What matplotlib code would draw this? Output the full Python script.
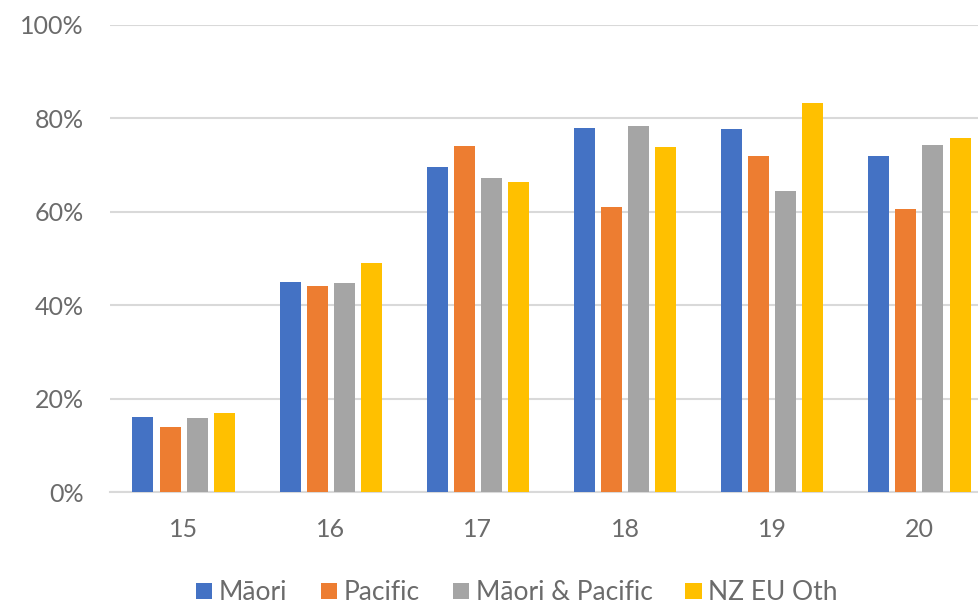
import matplotlib
matplotlib.use("Agg")
import matplotlib.pyplot as plt
import numpy as np
from matplotlib.ticker import PercentFormatter

ages = ["15", "16", "17", "18", "19", "20"]
maori = [16.0, 45.0, 69.7, 77.9, 77.7, 71.9]
pacific = [14.0, 44.2, 74.1, 61.1, 71.9, 60.5]
maori_pacific = [15.8, 44.8, 67.3, 78.4, 64.4, 74.3]
nz_eu_oth = [17.0, 49.0, 66.3, 73.9, 83.4, 75.7]

series = [
    ("Māori", maori, "#4472C4"),
    ("Pacific", pacific, "#ED7D31"),
    ("Māori & Pacific", maori_pacific, "#A5A5A5"),
    ("NZ EU Oth", nz_eu_oth, "#FFC000"),
]

plt.rcParams["font.family"] = ["Lato", "DejaVu Sans"]

fig = plt.figure(figsize=(9.79, 6.09), dpi=100)
ax = fig.add_axes([110 / 979, 117 / 609, 883 / 979, 467 / 609])

x = np.arange(len(ages))
width = 0.143
step = 0.184
for i, (name, vals, col) in enumerate(series):
    ax.bar(x + (i - 1.5) * step, vals, width=width, color=col, label=name, zorder=3)

ax.set_xlim(-0.5, len(ages) - 0.5)
ax.set_ylim(0, 100)
ax.set_yticks(np.arange(0, 101, 20))
ax.yaxis.set_major_formatter(PercentFormatter(decimals=0))
ax.set_xticks(x)
ax.set_xticklabels(ages)

ax.grid(axis="y", color="#d9d9d9", linewidth=1.5, zorder=0)
for s in ["top", "right", "left"]:
    ax.spines[s].set_visible(False)
ax.spines["bottom"].set_color("#d9d9d9")
ax.spines["bottom"].set_linewidth(1.5)
ax.tick_params(axis="both", length=0, labelsize=18, colors="#6b6b6b")
ax.tick_params(axis="y", pad=19)
ax.tick_params(axis="x", pad=19)

fig.legend(
    loc="center", bbox_to_anchor=(517 / 979, 16 / 609), ncol=4, frameon=False,
    fontsize=19, labelcolor="#6b6b6b", handlelength=0.62, handleheight=0.52,
    handletextpad=0.25, columnspacing=1.25, borderpad=0.2,
)

fig.savefig("out.png", dpi=100)
